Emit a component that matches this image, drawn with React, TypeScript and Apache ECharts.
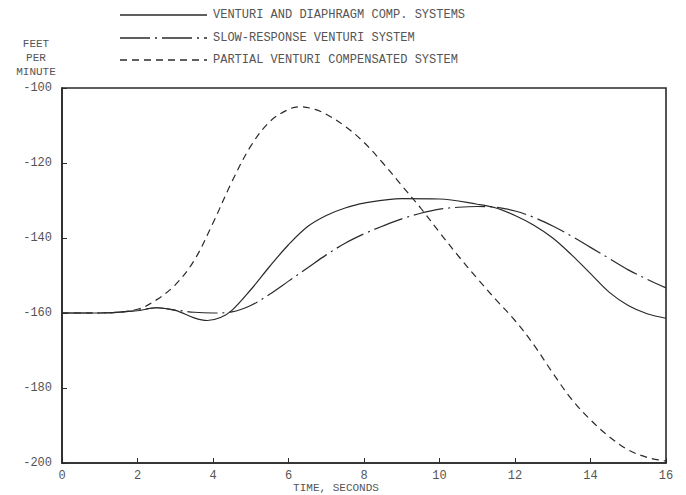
import React, { useEffect, useRef } from "react";
import * as echarts from "echarts";

const legendNames = [
  "VENTURI AND DIAPHRAGM COMP. SYSTEMS",
  "SLOW-RESPONSE VENTURI SYSTEM",
  "PARTIAL VENTURI COMPENSATED SYSTEM",
];

const solidTime = [0, 1, 2, 2.5, 3, 3.5, 3.85, 4.2, 4.5, 5, 5.5, 6, 6.5, 7, 7.5, 8, 9, 10, 11, 11.5, 12, 12.5, 13, 13.5, 14, 14.5, 15, 15.5, 16];
const solidValues = [-160, -160, -159.4, -158.6, -159.3, -161.3, -162, -161.2, -159.3, -153.8, -147.6, -141.8, -137.0, -134.0, -132.0, -130.7, -129.5, -129.6, -131, -132, -134, -136.6, -140, -144.5, -149.5, -154.5, -158, -160.2, -161.4];

const slowTime = [0, 1, 2, 2.5, 3, 3.5, 4, 4.5, 5, 5.5, 6, 6.5, 7, 7.5, 8, 8.5, 9, 9.5, 10, 10.5, 11, 11.5, 12, 12.5, 13, 13.5, 14, 14.5, 15, 15.5, 16];
const slowValues = [-160, -160, -159.3, -158.6, -159.2, -159.8, -160, -159.7, -158, -155, -151.5, -148, -144.5, -141.4, -138.9, -136.8, -134.9, -133.4, -132.3, -131.8, -131.6, -131.8, -132.8, -134.5, -136.8, -139.5, -142.5, -145.5, -148.5, -151, -153.3];

const partialTime = [0, 1, 2, 2.5, 3, 3.5, 4, 4.5, 5, 5.5, 6, 6.3, 6.7, 7, 7.5, 8, 8.5, 9, 9.5, 10, 10.5, 11, 11.5, 12, 12.5, 13, 13.5, 14, 14.5, 15, 15.5, 16];
const partialValues = [-160, -160, -159, -156.5, -152.5, -146, -136, -125, -115.5, -109, -105.7, -105, -105.7, -107, -110.2, -114.5, -120, -126, -132, -138.5, -144.8, -150.8, -156.5, -162, -168.5, -176, -183, -188.5, -193, -196.5, -198.5, -199.5];

const yTicks = { min: -200, max: -100, step: 20 };
const xTicks = { min: 0, max: 16, step: 2 };

const FONT = "Liberation Mono";
const TXT = "#555";
const INK = "#2a2a2a";

const pairs = (t: number[], v: number[]) => t.map((x, i) => [x, v[i]]);

const DASH_DOT = [30, 5, 2, 5];
const DASH = [7, 5];

export default function App() {
  const ref = useRef<HTMLDivElement>(null);
  useEffect(() => {
    if (!ref.current) return;
    const chart = echarts.init(ref.current, null, { renderer: "svg" });
    const styles: any[] = [null, DASH_DOT, DASH];
    const legendY = [15, 38, 60];
    const graphic: any[] = [];
    legendNames.forEach((n, i) => {
      graphic.push({
        type: "line",
        shape: { x1: 120, y1: legendY[i], x2: 207, y2: legendY[i] },
        style: { stroke: INK, lineWidth: 1.3, lineDash: styles[i] },
      });
      graphic.push({
        type: "text",
        x: 213,
        y: legendY[i],
        style: { text: n, fill: TXT, font: `12px "${FONT}"`, verticalAlign: "middle", align: "left" },
      });
    });
    ["FEET", "PER", "MINUTE"].forEach((s, i) => {
      graphic.push({
        type: "text",
        x: 36,
        y: 44 + i * 14,
        style: { text: s, fill: TXT, font: `11px "${FONT}"`, verticalAlign: "middle", align: "center" },
      });
    });
    graphic.push({
      type: "text",
      x: 336,
      y: 488,
      style: { text: "TIME, SECONDS", fill: TXT, font: `11px "${FONT}"`, verticalAlign: "middle", align: "center" },
    });

    chart.setOption({
      animation: false,
      backgroundColor: "#fff",
      grid: { left: 62, right: 20, top: 88, bottom: 32, show: true, borderColor: INK, borderWidth: 1.6 },
      xAxis: {
        type: "value",
        min: xTicks.min,
        max: xTicks.max,
        interval: xTicks.step,
        axisLine: { show: true, lineStyle: { color: INK, width: 1.6 } },
        axisTick: { show: true, inside: true, length: 5, lineStyle: { color: INK } },
        splitLine: { show: false },
        axisLabel: { color: TXT, fontFamily: FONT, fontSize: 12, margin: 7 },
      },
      yAxis: {
        type: "value",
        min: yTicks.min,
        max: yTicks.max,
        interval: yTicks.step,
        axisLine: { show: true, lineStyle: { color: INK, width: 1.6 } },
        axisTick: { show: true, inside: true, length: 5, lineStyle: { color: INK } },
        splitLine: { show: false },
        axisLabel: { color: TXT, fontFamily: FONT, fontSize: 12, margin: 10 },
      },
      graphic,
      series: [
        {
          name: legendNames[0],
          type: "line",
          data: pairs(solidTime, solidValues),
          smooth: 0.35,
          symbol: "none",
          lineStyle: { color: INK, width: 1.2, type: "solid" },
        },
        {
          name: legendNames[1],
          type: "line",
          data: pairs(slowTime, slowValues),
          smooth: 0.35,
          symbol: "none",
          lineStyle: { color: INK, width: 1.2, type: DASH_DOT },
        },
        {
          name: legendNames[2],
          type: "line",
          data: pairs(partialTime, partialValues),
          smooth: 0.35,
          symbol: "none",
          lineStyle: { color: INK, width: 1.2, type: DASH },
        },
      ],
    });
    return () => chart.dispose();
  }, []);
  return <div ref={ref} style={{ width: 686, height: 495, position: "fixed", left: 0, top: 0 }} />;
}
